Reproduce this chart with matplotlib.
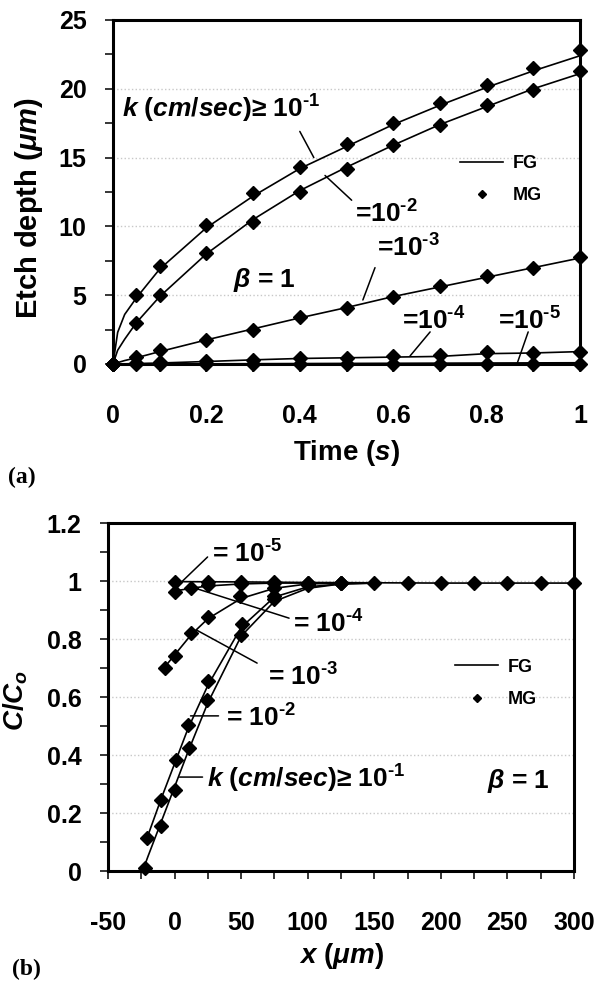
import matplotlib
matplotlib.use('Agg')
import matplotlib.pyplot as plt
from matplotlib.ticker import MultipleLocator

plt.rcParams['font.family'] = ['Liberation Sans', 'DejaVu Sans']
plt.rcParams['font.weight'] = 'bold'
plt.rcParams['axes.labelweight'] = 'bold'
plt.rcParams['axes.unicode_minus'] = False
plt.rcParams['mathtext.fontset'] = 'custom'
plt.rcParams['mathtext.rm'] = 'Liberation Sans:bold'
plt.rcParams['mathtext.it'] = 'Liberation Sans:italic:bold'
plt.rcParams['mathtext.bf'] = 'Liberation Sans:bold'

# (a) etch depth vs time, FG = fixed grid (lines), MG = moving grid (markers)
t_fg = [0, 0.01, 0.025, 0.05, 0.1, 0.2, 0.3, 0.4, 0.5, 0.6, 0.7, 0.8, 0.9, 1.0]
depth_fg = [
    [0, 2.3, 3.6, 4.8, 6.9, 9.9, 12.2, 14.2, 15.8, 17.4, 18.8, 20.1, 21.3, 22.4],   # k >= 1e-1
    [0, 1.0, 1.8, 3.0, 4.9, 8.0, 10.5, 12.6, 14.3, 15.9, 17.4, 18.7, 20.0, 21.1],   # 1e-2
    [0, 0.1, 0.25, 0.45, 0.9, 1.75, 2.55, 3.35, 4.1, 4.9, 5.6, 6.3, 7.0, 7.7],      # 1e-3
    [0, 0.0, 0.01, 0.03, 0.07, 0.18, 0.3, 0.4, 0.45, 0.5, 0.55, 0.75, 0.8, 0.9],   # 1e-4
    [0, 0, 0, 0, 0, 0.01, 0.02, 0.03, 0.04, 0.05, 0.06, 0.07, 0.08, 0.09],          # 1e-5
]
t_mg = [0, 0.05, 0.1, 0.2, 0.3, 0.4, 0.5, 0.6, 0.7, 0.8, 0.9, 1.0]
depth_mg = [
    [0, 5.0, 7.1, 10.1, 12.4, 14.3, 16.0, 17.5, 19.0, 20.3, 21.5, 22.8],
    [0, 3.0, 5.0, 8.1, 10.3, 12.5, 14.2, 15.9, 17.4, 18.8, 19.9, 21.3],
    [0, 0.5, 1.0, 1.75, 2.5, 3.45, 4.1, 4.9, 5.7, 6.4, 6.95, 7.8],
    [0, 0.1, 0.15, 0.2, 0.3, 0.4, 0.45, 0.55, 0.65, 0.85, 0.8, 0.9],
    [0, 0, 0, 0, 0, 0, 0, 0, 0, 0, 0, 0.02],
]

# (b) C/Co vs x
x_fg_b = [
    [-24, -20, -10, 0, 10, 25, 50, 75, 100, 125, 150],
    [-21, -10, 0, 10, 25, 50, 75, 100, 125, 150],
    [-8, 0, 12.5, 25, 50, 75, 100, 125],
    [-1, 12.5, 25, 50, 75, 100],
    [0, 50, 100, 150, 200, 250, 300],
]
c_fg_b = [
    [0, 0.05, 0.17, 0.29, 0.41, 0.58, 0.81, 0.93, 0.975, 0.99, 0.993],
    [0.11, 0.25, 0.37, 0.49, 0.64, 0.84, 0.945, 0.98, 0.99, 0.993],
    [0.70, 0.745, 0.815, 0.87, 0.94, 0.975, 0.99, 0.993],
    [0.965, 0.975, 0.983, 0.99, 0.993, 0.993],
    [0.998, 0.997, 0.995, 0.994, 0.993, 0.993, 0.993],
]
x_mg_b = [
    [-22, -10, 0, 11, 24, 50, 75, 100, 125],
    [-20.5, -10, 1, 10, 25, 51, 75, 100, 125],
    [-7.5, 0, 12.5, 25, 49, 75, 100],
    [0, 12.5, 25, 50, 75, 100],
    [0, 25, 50, 75, 100, 125, 150, 175, 200, 225, 250, 275, 300],
]
c_mg_b = [
    [0.01, 0.154, 0.28, 0.424, 0.59, 0.815, 0.937, 0.985, 0.993],
    [0.114, 0.246, 0.383, 0.503, 0.657, 0.852, 0.95, 0.99, 0.993],
    [0.70, 0.74, 0.82, 0.876, 0.947, 0.977, 0.99],
    [0.962, 0.975, 0.985, 0.99, 0.993, 0.993],
    [0.998, 0.995, 0.995, 0.995, 0.993, 0.993, 0.993, 0.993, 0.993, 0.993, 0.993, 0.993, 0.993],
]

fig = plt.figure(figsize=(6.03, 9.88), dpi=100)
ax1 = fig.add_axes([0.1874, 0.6316, 0.7745, 0.3482])
ax2 = fig.add_axes([0.1791, 0.1184, 0.7728, 0.3522])


def style_axes(ax):
    for s in ax.spines.values():
        s.set_linewidth(2.2)
    ax.tick_params(which='both', direction='out', length=6, width=1.1,
                   labelsize=18)
    ax.tick_params(axis='x', which='both', pad=23)
    ax.tick_params(axis='y', which='both', pad=13)
    ax.yaxis.grid(True, linestyle=':', color='#c8c8c8', lw=1)
    ax.set_axisbelow(True)


def sup(n):
    # short hyphen in the exponent, as in the original figure
    return r'10$^{\text{-' + str(n) + r'}}$'


# ---- (a)
for ys in depth_fg:
    ax1.plot(t_fg, ys, color='k', lw=1.2)
for ys in depth_mg:
    ax1.plot(t_mg, ys, 'D', color='k', ms=7, clip_on=False, zorder=3)
ax1.set_xlim(0, 1)
ax1.set_ylim(0, 25)
ax1.xaxis.set_major_locator(MultipleLocator(0.2))
ax1.xaxis.set_minor_locator(MultipleLocator(0.1))
ax1.yaxis.set_major_locator(MultipleLocator(5))
ax1.yaxis.set_minor_locator(MultipleLocator(2.5))
ax1.xaxis.set_major_formatter(lambda v, p: f'{v:g}')
style_axes(ax1)
ax1.set_xlabel('Time ($s$)', fontsize=20)
ax1.set_ylabel(r'Etch depth ($\mu m$)', fontsize=21)
ax1.xaxis.set_label_coords(0.5, -0.215)
ax1.yaxis.set_label_coords(-0.145, 0.453)

lab_a = [r'$k$ ($cm/sec$)≥ ' + sup(1), '=' + sup(2), '=' + sup(3),
         '=' + sup(4), '=' + sup(5)]
pos_a = [(0.019, 17.9), (0.518, 10.3), (0.565, 7.8), (0.619, 2.47), (0.825, 2.47)]
lead_a = [((0.40, 16.9), (0.43, 15.0)), ((0.454, 13.7), (0.511, 11.9)),
          ((0.561, 7.0), (0.535, 4.65)), ((0.679, 2.33), (0.636, 0.58)),
          ((0.889, 2.33), (0.865, 0.0))]
for s, (tx, ty), (p0, p1) in zip(lab_a, pos_a, lead_a):
    ax1.text(tx, ty, s, fontsize=19, va='baseline', ha='left')
    ax1.annotate('', xy=p1, xytext=p0,
                 arrowprops=dict(arrowstyle='-', color='k', lw=1.1,
                                 shrinkA=0, shrinkB=0))
ax1.text(0.257, 5.6, r'$\beta$ = 1', fontsize=19, va='baseline')

h_fg = ax1.lines[0]
h_mg = ax1.lines[len(depth_fg)]
ax1.legend([h_fg, h_mg], ['FG', 'MG'], loc='center left',
           bbox_to_anchor=(0.743, 0.536), frameon=False, borderpad=0,
           prop={'size': 13, 'weight': 'bold'}, handlelength=2.4,
           handletextpad=0.5, labelspacing=0.85, markerscale=0.65,
           borderaxespad=0)

# ---- (b)
for xs, ys in zip(x_fg_b, c_fg_b):
    ax2.plot(xs, ys, color='k', lw=1.2)
for xs, ys in zip(x_mg_b, c_mg_b):
    ax2.plot(xs, ys, 'D', color='k', ms=7, clip_on=False, zorder=3)
ax2.set_xlim(-50, 300)
ax2.set_ylim(0, 1.2)
ax2.xaxis.set_major_locator(MultipleLocator(50))
ax2.xaxis.set_minor_locator(MultipleLocator(25))
ax2.yaxis.set_major_locator(MultipleLocator(0.2))
ax2.yaxis.set_minor_locator(MultipleLocator(0.1))
ax2.yaxis.set_major_formatter(lambda v, p: f'{v:g}')
style_axes(ax2)
ax2.set_xlabel(r'$x$ ($\mu m$)', fontsize=20)
ax2.set_ylabel(r'$C/C_o$', fontsize=20)
ax2.xaxis.set_label_coords(0.5, -0.201)
ax2.yaxis.set_label_coords(-0.168, 0.49)

lab_b = ['= ' + sup(5), '= ' + sup(4), '= ' + sup(3), '= ' + sup(2),
         r'$k$ ($cm/sec$)≥ ' + sup(1)]
pos_b = [(27.8, 1.062), (88.6, 0.821), (70, 0.641), (39, 0.497), (24, 0.286)]
lead_b = [((24.8, 1.083), (5.3, 0.997)), ((86, 0.872), (15, 0.976)),
          ((62, 0.717), (16.5, 0.831)), ((33, 0.535), (12, 0.535)),
          ((21, 0.324), (3.8, 0.324))]
for s, (tx, ty), (p0, p1) in zip(lab_b, pos_b, lead_b):
    ax2.text(tx, ty, s, fontsize=19, va='baseline', ha='left')
    ax2.annotate('', xy=p1, xytext=p0,
                 arrowprops=dict(arrowstyle='-', color='k', lw=1.1,
                                 shrinkA=0, shrinkB=0))
ax2.text(235, 0.286, r'$\beta$ = 1', fontsize=19, va='baseline')

h_fg = ax2.lines[0]
h_mg = ax2.lines[len(c_fg_b)]
ax2.legend([h_fg, h_mg], ['FG', 'MG'], loc='center left',
           bbox_to_anchor=(0.745, 0.539), frameon=False, borderpad=0,
           prop={'size': 13, 'weight': 'bold'}, handlelength=2.4,
           handletextpad=0.5, labelspacing=0.85, markerscale=0.65,
           borderaxespad=0)

fig.text(8 / 603, 1 - 477 / 988, '(a)', family='Liberation Serif',
         fontsize=17, fontweight='bold', va='center')
fig.text(12 / 603, 1 - 969 / 988, '(b)', family='Liberation Serif',
         fontsize=17, fontweight='bold', va='center')

fig.savefig('out.png', dpi=100)
